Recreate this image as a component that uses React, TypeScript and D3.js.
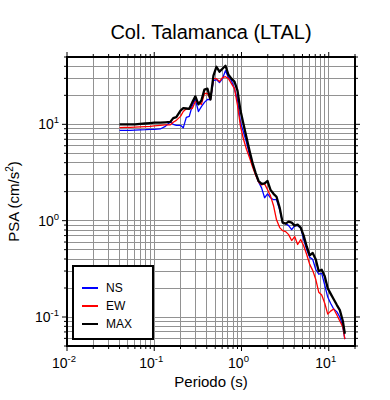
import React, { useEffect, useRef } from 'react';
import * as d3 from 'd3';

// Periodo (s) and spectral accelerations (cm/s2)
const periods = [
  0.04, 0.046, 0.053, 0.06, 0.069, 0.079, 0.09, 0.1, 0.117, 0.134, 0.153, 0.165, 0.179, 0.2, 0.215,
  0.233, 0.252, 0.273, 0.296, 0.321, 0.347, 0.376, 0.407, 0.441, 0.477, 0.516, 0.559, 0.605, 0.655,
  0.709, 0.767, 0.831, 0.9, 0.974, 1.055, 1.14, 1.24, 1.34, 1.45, 1.57, 1.7, 1.84, 1.99, 2.15, 2.33,
  2.52, 2.74, 2.96, 3.21, 3.47, 3.76, 4.07, 4.4, 4.77, 5.16, 5.59, 6.05, 6.55, 7.09, 7.68, 8.31, 9.0,
  9.74, 10.5, 11.4, 12.4, 13.4, 14.5, 15.3,
];

const psaNS = [
  8.67, 8.67, 8.67, 8.71, 8.77, 8.81, 8.88, 8.88, 8.95, 9.54, 10.6, 10.0, 9.77, 9.77, 9.2, 11.8, 12.1,
  15.7, 18.1, 13.6, 15.3, 16.9, 18.1, 18.1, 28.4, 29.1, 27.1, 29.8, 36.1, 30.5, 28.4, 23.5, 17.7, 10.5,
  8.27, 6.52, 4.79, 3.78, 3.05, 2.52, 2.19, 1.73, 1.9, 1.73, 1.65, 1.65, 1.3, 0.954, 0.931, 0.888,
  0.807, 0.888, 0.888, 0.847, 0.637, 0.502, 0.416, 0.397, 0.313, 0.278, 0.284, 0.214, 0.161, 0.139,
  0.121, 0.113, 0.1, 0.079, 0.059,
];

const psaEW = [
  9.24, 9.31, 9.31, 9.35, 9.42, 9.47, 9.54, 9.66, 9.77, 9.89, 9.89, 10.5, 11.0, 12.1, 13.6, 14.5, 14.6,
  14.6, 17.3, 16.9, 16.1, 20.9, 20.9, 18.1, 29.8, 29.8, 27.8, 30.5, 31.2, 29.8, 26.5, 23.5, 15.7, 9.54,
  7.0, 5.52, 4.46, 3.6, 2.98, 2.52, 2.35, 2.41, 2.09, 1.81, 1.43, 1.02, 0.847, 0.789, 0.77, 0.717,
  0.622, 0.684, 0.566, 0.637, 0.55, 0.446, 0.352, 0.305, 0.247, 0.181, 0.169, 0.139, 0.107, 0.115,
  0.121, 0.105, 0.091, 0.079, 0.059,
];

const psaMAX = [
  10.0, 10.0, 10.0, 10.0, 10.1, 10.2, 10.3, 10.4, 10.4, 10.5, 10.6, 11.6, 11.9, 13.9, 14.7, 14.6, 14.5,
  16.9, 19.5, 16.1, 17.7, 22.9, 23.5, 18.1, 32.0, 39.6, 35.2, 37.8, 40.6, 32.7, 29.8, 27.8, 22.4, 13.9,
  10.0, 7.35, 5.27, 3.96, 3.13, 2.58, 2.41, 2.44, 2.58, 2.09, 1.9, 1.77, 1.36, 0.954, 0.931, 0.977,
  0.954, 0.888, 0.909, 0.847, 0.7, 0.54, 0.436, 0.462, 0.397, 0.298, 0.309, 0.265, 0.199, 0.175,
  0.153, 0.133, 0.118, 0.091, 0.067,
];

const seriesNames = ['NS', 'EW', 'MAX'];
const xDecades = [0.01, 0.1, 1, 10];
const xExponents = ['-2', '-1', '0', '1'];
const yDecades = [0.1, 1, 10];
const yExponents = ['-1', '0', '1'];

const FONT = '"Liberation Sans", Arial, Helvetica, sans-serif';

const App: React.FC = () => {
  const ref = useRef<SVGSVGElement>(null);

  useEffect(() => {
    if (!ref.current) return;
    const width = 390;
    const height = 400;
    const margin = { top: 57, right: 35, bottom: 54, left: 67 };
    const w = width - margin.left - margin.right;
    const h = height - margin.top - margin.bottom;

    d3.select(ref.current).selectAll('*').remove();
    const root = d3.select(ref.current).attr('width', width).attr('height', height);
    const svg = root.append('g').attr('transform', `translate(${margin.left},${margin.top})`);

    const x = d3.scaleLog().domain([0.01, 20]).range([0, w]);
    const y = d3.scaleLog().domain([0.05, 50]).range([h, 0]);

    const isMajor = (v: number) => Math.abs(Math.log10(v) - Math.round(Math.log10(v))) < 1e-6;
    const xt = x.ticks();
    const yt = y.ticks();

    // grid
    const grid = svg.append('g').attr('stroke', '#929292').attr('stroke-width', 1).attr('shape-rendering', 'crispEdges');
    xt.filter(v => x(v) > 0.5 && x(v) < w - 0.5).forEach(v => {
      grid.append('line').attr('x1', x(v)).attr('x2', x(v)).attr('y1', 0).attr('y2', h);
    });
    yt.filter(v => y(v) > 0.5 && y(v) < h - 0.5).forEach(v => {
      grid.append('line').attr('x1', 0).attr('x2', w).attr('y1', y(v)).attr('y2', y(v));
    });

    // ticks on all four sides
    const ticks = svg.append('g').attr('stroke', '#000').attr('stroke-width', 1);
    xt.forEach(v => {
      const len = isMajor(v) ? 5 : 3;
      ticks.append('line').attr('x1', x(v)).attr('x2', x(v)).attr('y1', 0).attr('y2', -len);
      ticks.append('line').attr('x1', x(v)).attr('x2', x(v)).attr('y1', h).attr('y2', h + len);
    });
    yt.forEach(v => {
      const len = isMajor(v) ? 5 : 3;
      ticks.append('line').attr('x1', 0).attr('x2', -len).attr('y1', y(v)).attr('y2', y(v));
      ticks.append('line').attr('x1', w).attr('x2', w + len).attr('y1', y(v)).attr('y2', y(v));
    });

    // curves
    svg.append('clipPath').attr('id', 'plot-clip')
      .append('rect').attr('width', w).attr('height', h);

    const series = [
      { name: seriesNames[0], values: psaNS, color: '#0000ff', sw: 1.3 },
      { name: seriesNames[1], values: psaEW, color: '#ff0000', sw: 1.3 },
      { name: seriesNames[2], values: psaMAX, color: '#000000', sw: 2.3 },
    ];
    const line = d3.line<[number, number]>()
      .x(d => x(d[0]))
      .y(d => y(d[1]));

    series.forEach(s => {
      svg.append('path')
        .datum(periods.map((p, i) => [p, s.values[i]] as [number, number]))
        .attr('clip-path', 'url(#plot-clip)')
        .attr('fill', 'none')
        .attr('stroke', s.color)
        .attr('stroke-width', s.sw)
        .attr('stroke-linejoin', 'round')
        .attr('d', line);
    });

    // frame
    svg.append('rect')
      .attr('width', w).attr('height', h)
      .attr('fill', 'none').attr('stroke', '#000').attr('stroke-width', 2);

    // tick labels
    xDecades.forEach((v, i) => {
      const t = svg.append('text')
        .attr('x', x(v) - 3).attr('y', h + 22)
        .attr('text-anchor', 'middle')
        .style('font-family', FONT).style('font-size', '14px');
      t.append('tspan').text('10');
      t.append('tspan').attr('dy', -6).style('font-size', '9.5px').text(xExponents[i]);
    });
    yDecades.forEach((v, i) => {
      const t = svg.append('text')
        .attr('x', -8).attr('y', y(v) + 5)
        .attr('text-anchor', 'end')
        .style('font-family', FONT).style('font-size', '14px');
      t.append('tspan').text('10');
      t.append('tspan').attr('dy', -6).style('font-size', '9.5px').text(yExponents[i]);
    });

    // axis titles
    svg.append('text')
      .attr('x', w / 2).attr('y', h + 41)
      .attr('text-anchor', 'middle')
      .style('font-family', FONT).style('font-size', '15px')
      .text('Periodo (s)');

    const yl = svg.append('text')
      .attr('transform', `translate(${-48},${h / 2}) rotate(-90)`)
      .attr('text-anchor', 'middle')
      .style('font-family', FONT).style('font-size', '15px');
    yl.append('tspan').text('PSA (cm/s');
    yl.append('tspan').attr('dy', -6).style('font-size', '10px').text('2');
    yl.append('tspan').attr('dy', 6).text(')');

    // title
    svg.append('text')
      .attr('x', w / 2).attr('y', -18)
      .attr('text-anchor', 'middle')
      .style('font-family', FONT).style('font-size', '20px')
      .text('Col. Talamanca (LTAL)');

    // legend
    const legend = svg.append('g').attr('transform', `translate(6,${h - 80})`);
    legend.append('rect')
      .attr('width', 80).attr('height', 73)
      .attr('fill', '#fff').attr('stroke', '#000').attr('stroke-width', 2);
    series.forEach((s, i) => {
      const yy = 22 + i * 18;
      legend.append('line')
        .attr('x1', 9).attr('x2', 25).attr('y1', yy).attr('y2', yy)
        .attr('stroke', s.color).attr('stroke-width', 2);
      legend.append('text')
        .attr('x', 33).attr('y', yy).attr('dy', '0.35em')
        .style('font-family', FONT).style('font-size', '12px')
        .text(s.name);
    });
  }, []);

  return (
    <div style={{ position: 'absolute', left: 0, top: 0 }}>
      <svg ref={ref} style={{ display: 'block', background: '#fff' }}></svg>
    </div>
  );
};

export default App;
